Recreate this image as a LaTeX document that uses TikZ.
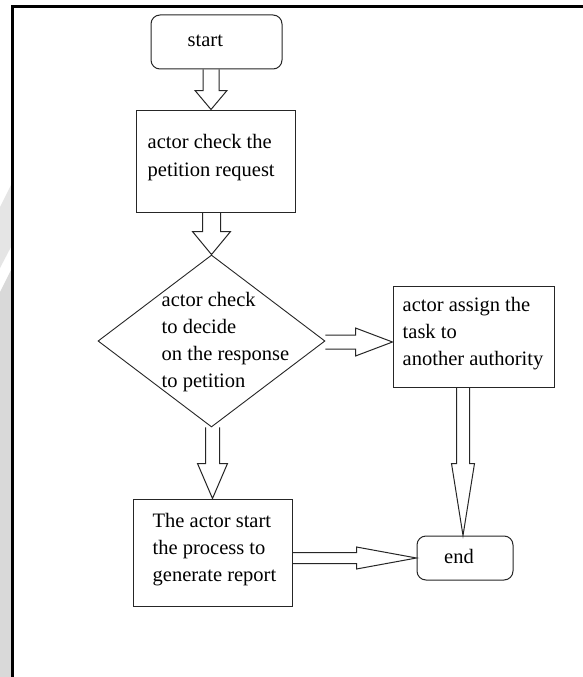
\documentclass[tikz,border=0pt]{standalone}
\usepackage{fontspec}
\setmainfont{Liberation Serif}
\usetikzlibrary{shapes.geometric,calc}

% hollow block arrow pointing down: start point, tip, shaft half-width, head half-width, head length
\newcommand{\blkdown}[5]{%
  \draw[blkarrow] ($(#2|-#1)+(-#3,0)$) -- ($(#2)+(-#3,-#5)$) -- ($(#2)+(-#4,-#5)$)
    -- (#2) -- ($(#2)+(#4,-#5)$) -- ($(#2)+(#3,-#5)$) -- ($(#2|-#1)+(#3,0)$);}
% hollow block arrow pointing right
\newcommand{\blkright}[5]{%
  \draw[blkarrow] ($(#1|-#2)+(0,-#3)$) -- ($(#2)+(-#5,-#3)$) -- ($(#2)+(-#5,-#4)$)
    -- (#2) -- ($(#2)+(-#5,#4)$) -- ($(#2)+(-#5,#3)$) -- ($(#1|-#2)+(0,#3)$);}

\tikzset{
  boxshape/.style={draw=black!85, line width=1pt, rectangle, inner sep=0pt},
  termshape/.style={draw=black!85, line width=1pt, rectangle, rounded corners=9pt, inner sep=0pt},
  decshape/.style={draw=black!85, line width=0.9pt, diamond, inner sep=0pt},
  label/.style={inner sep=0pt, align=left, font=\fontsize{20.5}{27}\selectfont},
  blkarrow/.style={draw=black!85, line width=1pt, line join=miter},
}

\begin{document}
\begin{tikzpicture}[x=1pt, y=-1pt]
  \useasboundingbox (0,0) rectangle (583,677);
  \fill[white] (0,0) rectangle (583,677);

  % shaded strip left of the frame
  \fill[black!10] (0,207) -- (12,183) -- (12,245) -- (0,268) -- cycle;
  \fill[black!15] (0,292) -- (12,268) -- (12,677) -- (0,677) -- cycle;

  % frame
  \draw[line width=3pt] (12.7,680) -- (12.7,7) -- (590,7);

  % shapes
  \node[termshape, minimum width=131pt, minimum height=54pt] (start) at (216.5,42) {};
  \node[boxshape, minimum width=159pt, minimum height=102pt] (check) at (215.5,161) {};
  \node[decshape, minimum width=227pt, minimum height=172pt] (decide) at (211.5,341) {};
  \node[boxshape, minimum width=161pt, minimum height=101pt] (assign) at (473.5,336.5) {};
  \node[boxshape, minimum width=159pt, minimum height=107pt] (report) at (212.5,552.5) {};
  \node[termshape, minimum width=96pt, minimum height=44pt] (end) at (465,558) {};

  % texts
  \node[label, anchor=base west] (startlbl) at ($(start.north west)+(37,32)$) {start};
  \node[label, anchor=north west] (checklbl) at ($(check.north west)+(12,25)$)
    {actor check the\\[1pt]petition request};
  \node[label, anchor=north west] (decidelbl) at ($(decide.north)+(-50,38)$)
    {actor check\\to decide\\on the response\\to petition};
  \node[label, anchor=north west] (assignlbl) at ($(assign.north west)+(10,12)$)
    {actor assign the\\task to\\another authority};
  \node[label, anchor=north west] (reportlbl) at ($(report.north west)+(20,15)$)
    {The actor start\\the process to\\generate report};
  \node[label, anchor=base] (endlbl) at ($(end.center)+(-6,5)$) {end};

  % connector end points
  \coordinate (t1) at ($(check.north)+(-4.5,0)$);
  \coordinate (t4) at ($(assign.west)+(0,5.5)$);
  \coordinate (t5) at ($(end.north)+(-2,0)$);

  % block arrows
  \blkdown{start.south}{t1}{8}{16}{19}
  \blkdown{check.south}{decide.north}{9}{19}{23}
  \blkdown{decide.south}{report.north}{7}{15}{35}
  \blkright{decide.east}{t4}{7}{14}{37}
  \blkdown{assign.south}{t5}{6.5}{11.5}{72}
  \blkright{report.east}{end.west}{5.5}{11}{60}
\end{tikzpicture}
\end{document}
